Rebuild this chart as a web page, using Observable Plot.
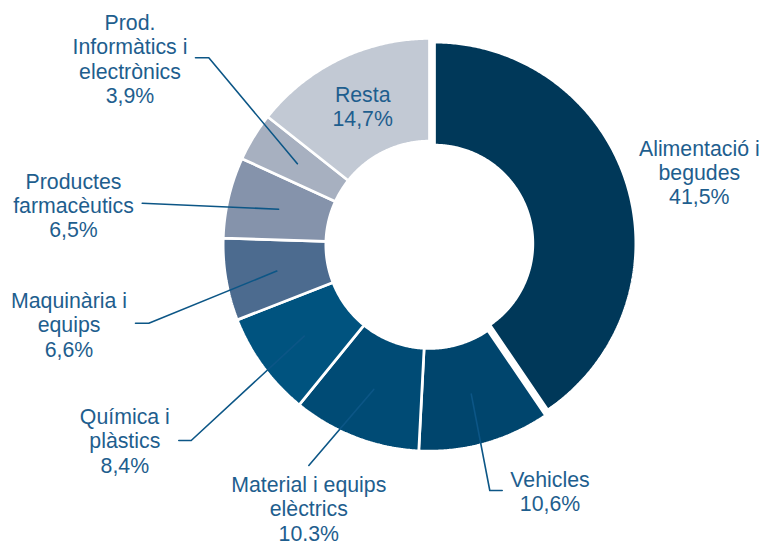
<!DOCTYPE html>
<html>
<head>
<meta charset="utf-8">
<script src="https://cdn.jsdelivr.net/npm/d3@7"></script>
<script src="https://cdn.jsdelivr.net/npm/@observablehq/plot@0.6"></script>
<style>
  html, body { margin: 0; padding: 0; background: #ffffff; }
  #chart { width: 762px; height: 541px; }
</style>
</head>
<body>
<div id="chart"></div>
<script>
// ---- data ----
const categories = [
  "Alimentació i begudes", "Vehicles", "Material i equips elèctrics",
  "Química i plàstics", "Maquinària i equips", "Productes farmacèutics",
  "Prod. Informàtics i electrònics", "Resta"
];
const shares = [41.5, 10.6, 10.3, 8.4, 6.6, 6.5, 3.9, 14.7];
const labelLines = [
  ["Alimentació i", "begudes"], ["Vehicles"], ["Material i equips", "elèctrics"],
  ["Química i", "plàstics"], ["Maquinària i", "equips"], ["Productes", "farmacèutics"],
  ["Prod.", "Informàtics i", "electrònics"], ["Resta"]
];

// ---- styles / layout ----
const colors = ["#003859", "#00456D", "#004B75", "#00537F", "#4C6B8F", "#8593AB", "#A7B0C0", "#C2C9D4"];
const textColor = "#1E5E8E";
const leaderColor = "#0C5686";
const fontSize = 21.3;
const gapWidth = 2.7;
const ring = { cx: 429, cy: 244.3, outer: 205 + gapWidth / 2, inner: 105 - gapWidth / 2 };
const explodedRing = { cx: 434, cy: 243, outer: 200 + gapWidth / 2, inner: 99.7 - gapWidth / 2 };
const explodedIndex = 0;
// label centres (text block) and leader-line waypoints (after the slice anchor)
const labelPos = [
  [698.8, 171.7], [549.5, 490.7], [308.3, 508], [124.3, 440.2],
  [68.5, 324.2], [73, 204.6], [129.5, 58.2], [362.2, 105.4]
];
const leaderPath = [
  null,
  [[489.3, 490], [501.7, 490]],
  [[308.3, 465]],
  [[190.7, 440], [178.3, 440]],
  [[148.3, 322.7], [135, 322.7]],
  [[141.7, 202.7]],
  [[208.3, 57.3], [195, 57.3]],
  null
];

const fmt = v => v.toFixed(1).replace(".", ",") + "%";

// ---- geometry from data ----
const arcs = d3.pie().sort(null).value(d => d)(shares);
const polar = (g, a, r) => [g.cx + r * Math.sin(a), g.cy - r * Math.cos(a)];

const slicePoints = [];
arcs.forEach((a, i) => {
  const g = i === explodedIndex ? explodedRing : ring;
  const steps = Math.max(2, Math.ceil((a.endAngle - a.startAngle) / (Math.PI / 360)));
  for (let k = 0; k <= steps; k++) {
    const t = a.startAngle + (a.endAngle - a.startAngle) * k / steps;
    const [x, y] = polar(g, t, g.outer);
    slicePoints.push({ name: categories[i], x, y, color: colors[i] });
  }
  for (let k = steps; k >= 0; k--) {
    const t = a.startAngle + (a.endAngle - a.startAngle) * k / steps;
    const [x, y] = polar(g, t, g.inner);
    slicePoints.push({ name: categories[i], x, y, color: colors[i] });
  }
});

const leaderPoints = [];
arcs.forEach((a, i) => {
  if (!leaderPath[i]) return;
  const mid = (a.startAngle + a.endAngle) / 2;
  const [x0, y0] = polar(ring, mid, (205 + 105) / 2);
  leaderPoints.push({ name: categories[i], x: x0, y: y0 });
  leaderPath[i].forEach(([x, y]) => leaderPoints.push({ name: categories[i], x, y }));
});

const labels = categories.map((c, i) => ({
  name: c,
  x: labelPos[i][0],
  y: labelPos[i][1],
  text: [...labelLines[i], fmt(shares[i])].join("\n")
}));

const chart = Plot.plot({
  width: 762,
  height: 541,
  margin: 0,
  x: { domain: [0, 762], range: [0, 762], axis: null },
  y: { domain: [0, 541], range: [0, 541], axis: null },
  color: { type: "identity" },
  style: { fontFamily: "'Liberation Sans', Arial, sans-serif", background: "#ffffff" },
  marks: [
    Plot.line(slicePoints, {
      x: "x", y: "y", z: "name", fill: "color",
      stroke: "#ffffff", strokeWidth: gapWidth, curve: "linear-closed", strokeLinejoin: "miter"
    }),
    Plot.line(leaderPoints, {
      x: "x", y: "y", z: "name", stroke: leaderColor, strokeWidth: 1.6
    }),
    Plot.text(labels, {
      x: "x", y: "y", text: "text", fill: textColor,
      fontSize, lineHeight: 24.3 / fontSize, textAnchor: "middle"
    })
  ]
});
document.getElementById("chart").appendChild(chart);
</script>
</body>
</html>
